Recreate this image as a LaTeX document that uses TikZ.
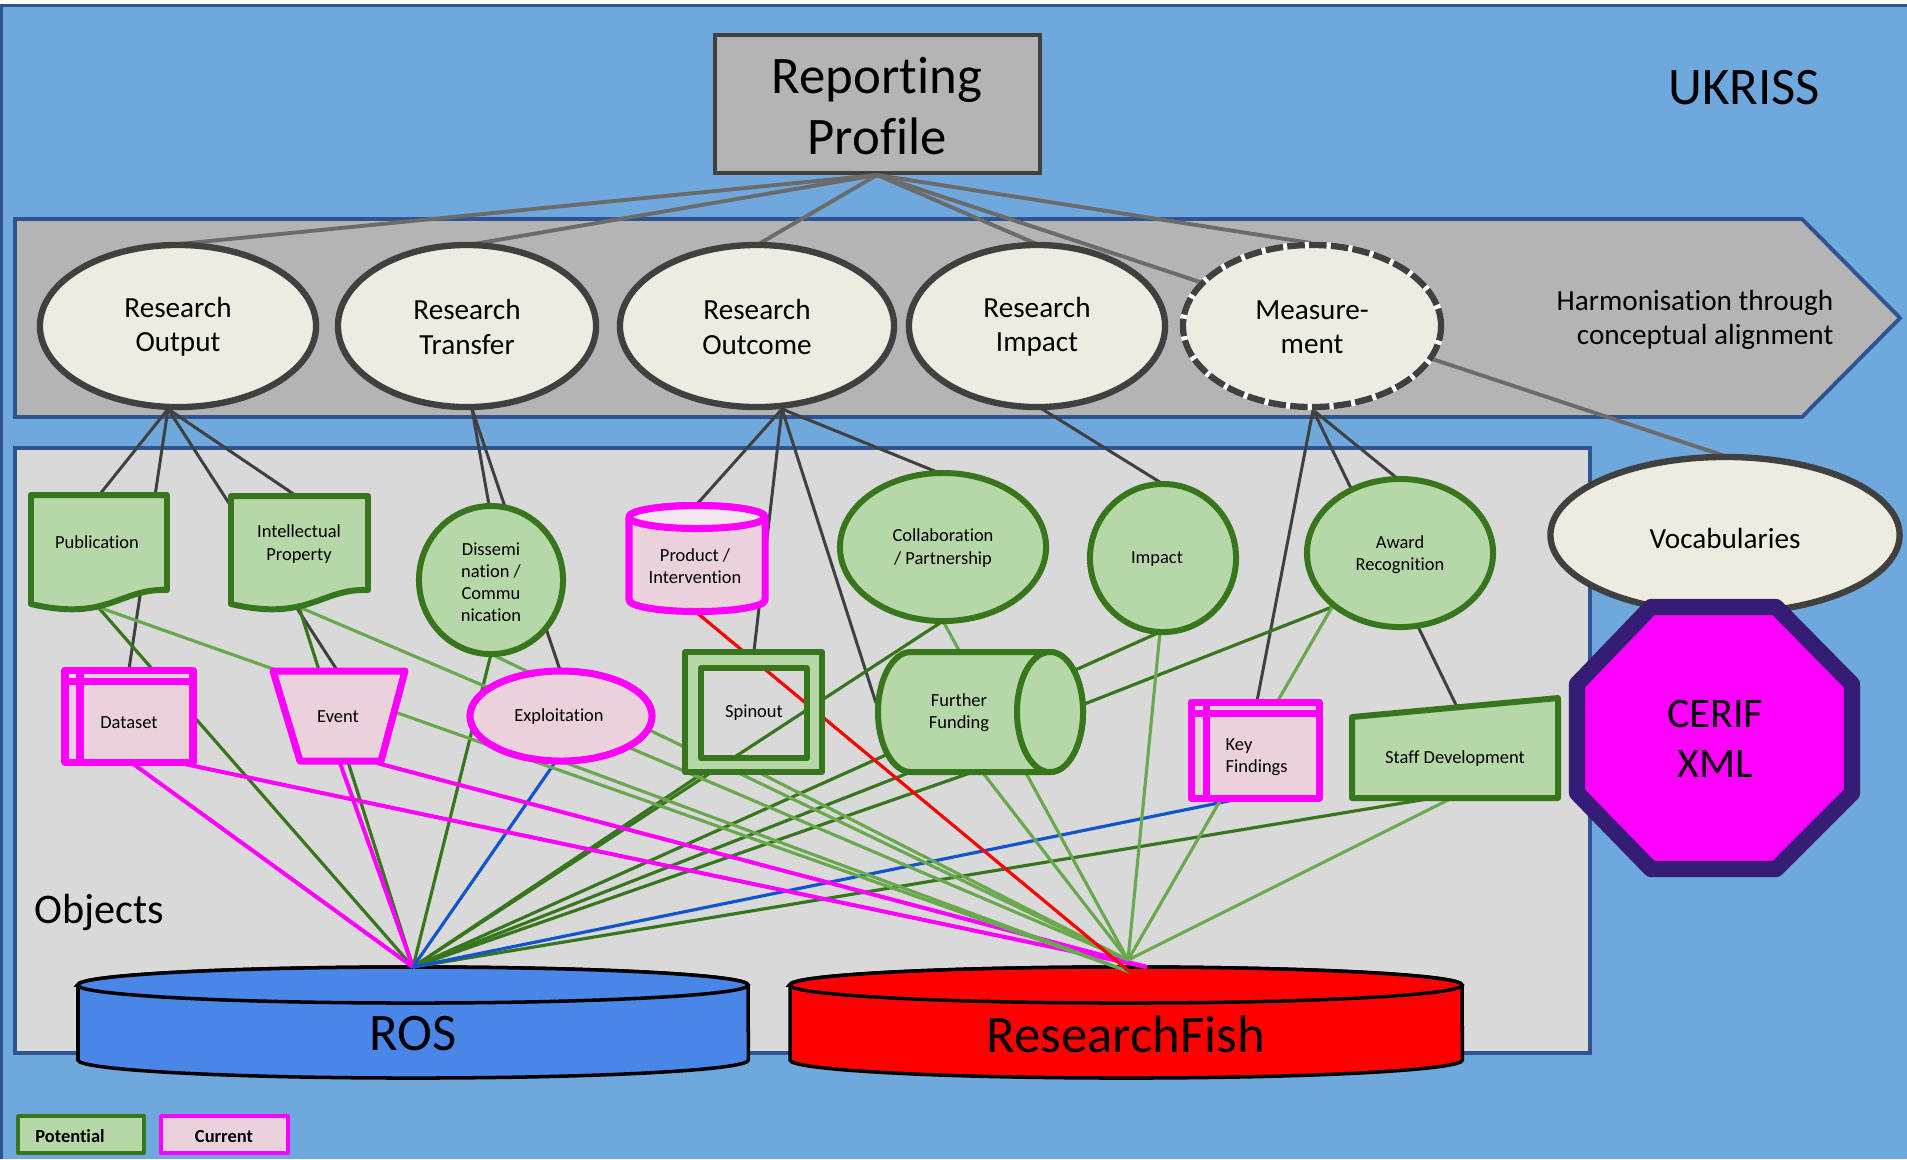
\documentclass[tikz,border=0pt]{standalone}
\usepackage{fontspec}
\setmainfont{Carlito}[Ligatures=NoCommon]
\definecolor{bgblue}{HTML}{6FA8DC}
\definecolor{edgeblue}{HTML}{2E5590}
\definecolor{bandgray}{HTML}{B4B4B4}
\definecolor{objgray}{HTML}{D9D9D9}
\definecolor{cream}{HTML}{EEECE1}
\definecolor{darkgray}{HTML}{404040}
\definecolor{rpline}{HTML}{6B6B6B}
\definecolor{gfill}{HTML}{B6D7A8}
\definecolor{gdark}{HTML}{38761D}
\definecolor{glight}{HTML}{6AA84F}
\definecolor{pfill}{HTML}{EAD1DC}
\definecolor{ptop}{HTML}{F3E6EE}
\definecolor{mag}{HTML}{FF00FF}
\definecolor{octedge}{HTML}{351C75}
\definecolor{rosblue}{HTML}{4A86E8}
\definecolor{lblue}{HTML}{1155CC}
\begin{document}
\begin{tikzpicture}[x=0.01cm,y=-0.01cm,
  hierline/.style={draw=darkgray,line width=0.85pt},
  rpline/.style={draw=rpline,line width=1.1pt},
  dgline/.style={draw=gdark,line width=0.9pt},
  lgline/.style={draw=glight,line width=0.9pt},
  magline/.style={draw=mag,line width=1.15pt},
  blueline/.style={draw=lblue,line width=0.9pt},
  redline/.style={draw=red,line width=0.9pt},
  potential/.style={draw=gdark,fill=gfill,line width=1.7pt,line join=round},
  current/.style={draw=mag,fill=pfill,line width=2pt,line join=round},
  concept/.style={draw=darkgray,fill=cream,line width=1.8pt},
  cyl/.style={draw=black,line width=1pt},
  small/.style={font=\fontsize{5.25}{6.3}\selectfont,align=center,inner sep=0pt},
  mid/.style={font=\fontsize{8.3}{9.7}\selectfont,align=center,inner sep=0pt},
  big/.style={font=\fontsize{15}{17.3}\selectfont,align=center,inner sep=0pt},
  medium/.style={font=\fontsize{12}{14.2}\selectfont,align=center,inner sep=0pt}]
\useasboundingbox (0,0) rectangle (1907,1159);
\fill[white] (0,0) rectangle (1907,5);
\fill[bgblue] (0,5) rectangle (1907,1159);
\draw[edgeblue,line width=0.9pt] (1.5,1159) -- (1.5,5.5) -- (1907,5.5);
% band and objects area
\draw[fill=bandgray,draw=edgeblue,line width=1.1pt] (15,219) -- (1802,219) -- (1900,318) -- (1802,417) -- (15,417) -- cycle;
\draw[fill=objgray,draw=edgeblue,line width=1pt] (15,448) rectangle (1590,1053);
% Reporting profile box
\draw[fill=bandgray,draw=darkgray,line width=1.1pt] (715,35) rectangle (1040,173);
% databases
\draw[cyl,fill=rosblue] (78,985) -- (78,1060) arc[start angle=180,end angle=360,x radius=3.35cm,y radius=0.18cm] -- (748,985) arc[start angle=0,end angle=180,x radius=3.35cm,y radius=0.18cm] -- cycle;
\draw[cyl,fill=rosblue] (413,985) ellipse [x radius=3.35cm,y radius=0.18cm];
\draw[cyl,fill=red] (790,985) -- (790,1060) arc[start angle=180,end angle=360,x radius=3.36cm,y radius=0.18cm] -- (1462,985) arc[start angle=0,end angle=180,x radius=3.36cm,y radius=0.18cm] -- cycle;
\draw[cyl,fill=red] (1126,985) ellipse [x radius=3.36cm,y radius=0.18cm];
% coordinates
\coordinate (rp-s) at (877,175);
\coordinate (ro-n) at (179,244);
\coordinate (rt-n) at (468,245);
\coordinate (oc-n) at (757,245);
\coordinate (ri-n) at (1037,244);
\coordinate (me-n) at (1311,243);
\coordinate (voc-n) at (1725,456);
\coordinate (ro-s) at (168,409);
\coordinate (rt-s) at (472,409);
\coordinate (oc-s) at (782,409);
\coordinate (ri-s) at (1042,409);
\coordinate (me-s) at (1313,410);
\coordinate (pub-n) at (100,494);
\coordinate (ds-n) at (129,669);
\coordinate (ev-n) at (337,670);
\coordinate (ip-n) at (295,495);
\coordinate (dis-n) at (489,505);
\coordinate (ex-n) at (560,670);
\coordinate (pr-n) at (698,503);
\coordinate (sp-n) at (754,651);
\coordinate (ff-w) at (876,703);
\coordinate (co-n) at (937,472);
\coordinate (im-n) at (1163,484);
\coordinate (kf-n) at (1257,701);
\coordinate (aw-n) at (1398,479);
\coordinate (sd-n) at (1457,707);
\coordinate (pub-s) at (98,607);
\coordinate (ip-s) at (299,607);
\coordinate (dis-s) at (491,654);
\coordinate (ds-s1) at (132,763);
\coordinate (ds-s2) at (180,763);
\coordinate (ev-s1) at (340,763);
\coordinate (ev-s2) at (377,763);
\coordinate (ex-s1) at (556,761);
\coordinate (ex-s2) at (561,761);
\coordinate (pr-s) at (696,612);
\coordinate (sp-s1) at (703,773);
\coordinate (sp-s2) at (760,773);
\coordinate (co-s) at (943,621);
\coordinate (ff-s1) at (970,773);
\coordinate (ff-s2) at (983,773);
\coordinate (im-s) at (1160,632);
\coordinate (aw-s) at (1332,607);
\coordinate (kf-s) at (1243,798);
\coordinate (sd-s1) at (1427,799);
\coordinate (sd-s2) at (1450,799);
\coordinate (ros) at (413,967);
\coordinate (rf) at (1128,960);
\coordinate (rf2) at (1130,972);
\coordinate (rf3) at (1147,967);
% connectors from reporting profile
\foreach \t in {ro-n,rt-n,oc-n,ri-n,me-n,voc-n} \draw[rpline] (rp-s) -- (\t);
% hierarchy connectors
\foreach \t in {pub-n,ds-n,ev-n,ip-n} \draw[hierline] (ro-s) -- (\t);
\foreach \t in {dis-n,ex-n} \draw[hierline] (rt-s) -- (\t);
\foreach \t in {pr-n,sp-n,ff-w,co-n} \draw[hierline] (oc-s) -- (\t);
\draw[hierline] (ri-s) -- (im-n);
\foreach \t in {kf-n,aw-n,sd-n} \draw[hierline] (me-s) -- (\t);
% to ROS
\foreach \s in {pub-s,ip-s,dis-s,sp-s1,co-s,ff-s1,im-s,aw-s,sd-s1} \draw[dgline] (\s) -- (ros);
\draw[magline] (ds-s1) -- (ros);
\draw[magline] (ev-s1) -- (ros);
\draw[blueline] (ex-s1) -- (ros);
\draw[blueline] (kf-s) -- (ros);
% to ResearchFish
\draw[magline] (ds-s2) -- (rf3);
\draw[magline] (ev-s2) -- (rf3);
\draw[lgline] (pub-s) -- (rf2);
\draw[lgline] (ex-s2) -- (rf2);
\foreach \s in {ip-s,dis-s,sp-s2,co-s,ff-s2,im-s,aw-s,sd-s2} \draw[lgline] (\s) -- (rf);
\draw[redline] (pr-s) -- (rf2);
% concept ellipses
\draw[concept] (178,326) ellipse [x radius=1.38cm,y radius=0.81cm];
\draw[concept] (467,326) ellipse [x radius=1.29cm,y radius=0.81cm];
\draw[concept] (757,326) ellipse [x radius=1.37cm,y radius=0.81cm];
\draw[concept] (1037,326) ellipse [x radius=1.28cm,y radius=0.81cm];
\draw[concept,draw=white] (1312,326) ellipse [x radius=1.29cm,y radius=0.81cm];
\draw[draw=darkgray,line width=1.8pt,dash pattern=on 5pt off 1.2pt] (1312,326) ellipse [x radius=1.29cm,y radius=0.81cm];
\draw[concept] (1725,535) ellipse [x radius=1.745cm,y radius=0.78cm];
\draw[draw=octedge,fill=mag,line width=4.6pt,line join=round] (1651,607) -- (1776,607) -- (1852,684) -- (1852,793) -- (1776,869) -- (1651,869) -- (1577,793) -- (1577,684) -- cycle;
% objects
\draw[potential] (31,495) -- (167,495) -- (167,590) .. controls (120,588) and (108,622) .. (31,604) -- cycle;
\draw[potential] (231,496) -- (368,496) -- (368,590) .. controls (321,588) and (309,622) .. (231,604) -- cycle;
\draw[potential] (491,580) ellipse [x radius=0.72cm,y radius=0.74cm];
\draw[current] (65,670) rectangle (193,762);
\draw[mag,line width=2pt] (65,681) -- (193,681) (80,670) -- (80,762);
\draw[current] (273,671) -- (405,671) -- (381,761) -- (300,761) -- cycle;
\draw[current] (561,716) ellipse [x radius=0.91cm,y radius=0.45cm];
\draw[current] (629,517) -- (629,600) arc[start angle=180,end angle=360,x radius=0.68cm,y radius=0.115cm] -- (765,517) arc[start angle=0,end angle=180,x radius=0.68cm,y radius=0.115cm] -- cycle;
\draw[current,fill=ptop] (697,517) ellipse [x radius=0.68cm,y radius=0.115cm];
\fill[gfill,even odd rule] (685,652) rectangle (822,772) (701,668) rectangle (807,758);
\draw[gdark,line width=1.7pt,line join=round] (685,652) rectangle (822,772) (701,668) rectangle (807,758);
\draw[potential] (911,652) -- (1050,652) arc[start angle=90,end angle=-90,x radius=0.33cm,y radius=0.6cm] -- (911,772) arc[start angle=270,end angle=90,x radius=0.33cm,y radius=0.6cm] -- cycle;
\draw[potential] (1050,712) ellipse [x radius=0.33cm,y radius=0.6cm];
\draw[potential] (943,547) ellipse [x radius=1.03cm,y radius=0.74cm];
\draw[potential] (1163,558) ellipse [x radius=0.73cm,y radius=0.74cm];
\draw[potential] (1400,553) ellipse [x radius=0.93cm,y radius=0.74cm];
\draw[current] (1191,702) rectangle (1319,798);
\draw[mag,line width=2pt] (1191,713) -- (1319,713) (1206,702) -- (1206,798);
\draw[potential] (1352,717) -- (1558,698) -- (1558,798) -- (1352,798) -- cycle;
% legend
\draw[potential,line width=1.1pt] (18,1116) rectangle (144,1153);
\draw[current,line width=1.1pt] (161,1116) rectangle (288,1153);
% texts
\node[big] (rptext) at (877,106) {Reporting\\Profile};
\node[big] (ukriss) at (1744,88) {UKRISS};
\node[mid] (rot) at (178,327) {Research\\Output};
\node[mid] (rtt) at (467,327) {Research\\Transfer};
\node[mid] (oct) at (757,327) {Research\\Outcome};
\node[mid] (rit) at (1037,327) {Research\\Impact};
\node[mid] (met) at (1312,327) {Measure-\\ment};
\node[mid,align=right,anchor=east] (harm) at (1834,320) {Harmonisation through\\conceptual alignment};
\node[mid] (voct) at (1725,538) {Vocabularies};
\node[medium] (cerif) at (1715,739) {CERIF\\XML};
\node[medium,anchor=west] (objt) at (34,912) {Objects};
\node[big] (rost) at (413,1034) {ROS};
\node[big] (rft) at (1126,1034) {ResearchFish};
\node[small] (pubt) at (97,542) {Publication};
\node[small] (ipt) at (299,544) {Intellectual\\Property};
\node[small] (dist) at (491,582) {Dissemi\\nation /\\Commu\\nication};
\node[small] (dst) at (129,723) {Dataset};
\node[small] (evt) at (338,717) {Event};
\node[small] (ext) at (559,717) {Exploitation};
\node[small] (prt) at (695,566) {Product /\\Intervention};
\node[small] (spt) at (754,713) {Spinout};
\node[small] (fft) at (959,713) {Further\\Funding};
\node[small] (cot) at (943,548) {Collaboration\\/ Partnership};
\node[small] (imt) at (1157,559) {Impact};
\node[small] (awt) at (1400,555) {Award\\Recognition};
\node[small,align=left,anchor=west] (kft) at (1225,757) {Key\\Findings};
\node[small] (sdt) at (1455,759) {Staff Development};
\node[small,font=\fontsize{5.25}{6.3}\selectfont\bfseries] (potl) at (70,1136) {Potential};
\node[small,font=\fontsize{5.25}{6.3}\selectfont\bfseries] (curl) at (224,1136) {Current};
\end{tikzpicture}
\end{document}
